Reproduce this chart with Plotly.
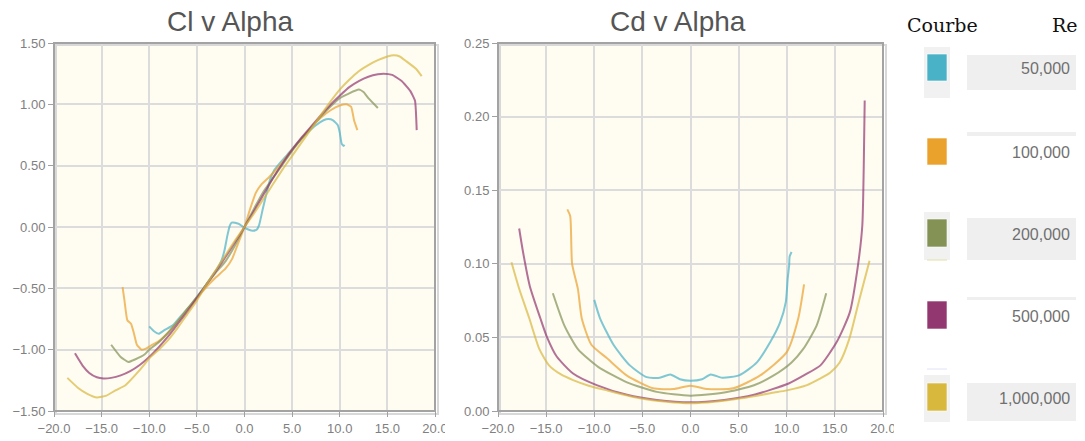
import plotly.graph_objects as go

W, H = 1085, 441

# ---------------- data ----------------
reynolds = [50000, 100000, 200000, 500000, 1000000]
colors = ["#4ab2c6", "#eba22d", "#849255", "#92376f", "#d9b83e"]

# Cl v Alpha
a_cl_50k = [-10.0, -9.5, -9.0, -8.4, -7.5, -6.5, -5.5, -4.5, -3.5, -2.8, -2.4, -2.1, -1.8, -1.55, -1.35, -1.0, -0.6,
            -0.3, 0.0, 0.4, 0.9, 1.3, 1.55, 1.9, 2.3, 2.7, 3.1, 3.6, 4.5, 5.5, 6.5, 7.5, 8.3, 8.8, 9.3, 9.8, 10.0,
            10.2, 10.4, 10.5]
cl_50k = [-0.81, -0.85, -0.87, -0.84, -0.80, -0.71, -0.62, -0.52, -0.41, -0.33, -0.27, -0.19, -0.07, 0.01, 0.035,
          0.035, 0.025, 0.01, -0.005, -0.02, -0.03, -0.02, 0.02, 0.14, 0.27, 0.39, 0.46, 0.51, 0.59, 0.68, 0.76,
          0.83, 0.87, 0.88, 0.87, 0.83, 0.77, 0.68, 0.66, 0.67]

a_cl_100k = [-12.8, -12.6, -12.3, -11.9, -11.6, -11.3, -10.8, -10.3, -9.9, -9.0, -8.0, -7.0, -6.0, -5.0, -4.0, -3.0,
             -2.0, -1.3, -0.7, 0.0, 0.6, 1.2, 1.8, 2.5, 3.0, 4.0, 5.0, 6.0, 7.0, 8.0, 9.0, 10.0, 10.7, 11.2, 11.5,
             11.85]
cl_100k = [-0.49, -0.60, -0.76, -0.79, -0.87, -0.96, -1.00, -0.99, -0.97, -0.93, -0.86, -0.77, -0.67, -0.58, -0.49,
           -0.41, -0.34, -0.26, -0.14, 0.0, 0.15, 0.28, 0.35, 0.40, 0.44, 0.53, 0.63, 0.72, 0.81, 0.89, 0.95, 0.99,
           1.00, 0.98, 0.87, 0.79]

a_cl_200k = [-14.0, -13.0, -12.2, -11.5, -10.5, -10.0, -9.0, -8.0, -7.0, -6.0, -5.0, -4.0, -3.0, -2.0, -1.0, 0.0, 1.0,
             2.0, 3.0, 4.0, 5.0, 6.0, 7.0, 8.0, 9.0, 10.0, 11.0, 12.0, 12.5, 13.0, 14.0]
cl_200k = [-0.96, -1.06, -1.10, -1.08, -1.04, -1.00, -0.94, -0.86, -0.77, -0.67, -0.57, -0.47, -0.37, -0.28, -0.15,
           0.0, 0.15, 0.29, 0.40, 0.51, 0.62, 0.72, 0.81, 0.90, 0.98, 1.05, 1.09, 1.12, 1.10, 1.05, 0.97]

a_cl_500k = [-17.8, -17.0, -16.3, -15.5, -14.8, -14.0, -13.0, -12.0, -11.0, -10.0, -9.0, -8.0, -7.0, -6.0, -5.0, -4.0,
             -3.0, -2.0, -1.0, 0.0, 1.0, 2.0, 3.0, 4.0, 5.0, 6.0, 7.0, 8.0, 9.0, 10.0, 11.0, 12.0, 13.0, 14.0, 14.6,
             15.5, 16.5, 17.4, 17.9, 18.08]
cl_500k = [-1.03, -1.13, -1.19, -1.225, -1.235, -1.23, -1.21, -1.175, -1.125, -1.06, -0.98, -0.89, -0.79, -0.69,
           -0.58, -0.47, -0.36, -0.245, -0.125, 0.0, 0.13, 0.265, 0.40, 0.52, 0.63, 0.73, 0.82, 0.91, 0.995, 1.07,
           1.14, 1.19, 1.225, 1.245, 1.25, 1.24, 1.19, 1.11, 1.03, 0.79]

a_cl_1m = [-18.6, -17.5, -16.5, -15.5, -14.5, -13.5, -12.5, -11.5, -10.5, -10.0, -9.0, -8.0, -7.0, -6.0, -5.0, -4.0,
           -3.0, -2.0, -1.0, 0.0, 1.0, 2.0, 3.0, 4.0, 5.0, 6.0, 7.0, 8.0, 9.0, 10.0, 11.0, 12.0, 13.0, 14.0, 15.0,
           15.7, 16.3, 17.0, 18.0, 18.6]
cl_1m = [-1.23, -1.31, -1.36, -1.39, -1.375, -1.33, -1.29, -1.21, -1.12, -1.07, -1.00, -0.92, -0.82, -0.71, -0.60,
         -0.47, -0.35, -0.23, -0.11, 0.0, 0.11, 0.23, 0.35, 0.47, 0.58, 0.69, 0.80, 0.91, 1.02, 1.12, 1.20, 1.27,
         1.32, 1.36, 1.39, 1.40, 1.39, 1.35, 1.29, 1.23]

# Cd v Alpha
a_cd_50k = [-10.0, -9.4, -8.0, -6.3, -4.55, -3.2, -2.1, -1.1, 0.0, 1.2, 2.1, 3.3, 5.1, 6.9, 8.3, 9.3, 9.9, 10.1,
            10.25, 10.3, 10.5]
cd_50k = [0.0755, 0.063, 0.045, 0.031, 0.023, 0.0226, 0.0248, 0.0216, 0.0206, 0.0216, 0.0248, 0.0226, 0.0244, 0.033,
          0.047, 0.060, 0.074, 0.090, 0.099, 0.105, 0.108]

a_cd_100k = [-12.8, -12.5, -12.3, -11.7, -11.3, -10.3, -8.7, -6.6, -3.9, -1.8, 0.0, 1.8, 4.45, 7.2, 10.0, 11.2,
             11.8]
cd_100k = [0.137, 0.1325, 0.100, 0.083, 0.063, 0.045, 0.036, 0.024, 0.0154, 0.0149, 0.0172, 0.0149, 0.0154, 0.024,
           0.040, 0.063, 0.086]

a_cd_200k = [-14.3, -13.1, -11.7, -9.6, -6.6, -3.5, 0.0, 3.5, 6.6, 8.6, 10.5, 11.7, 13.1, 14.1]
cd_200k = [0.080, 0.058, 0.042, 0.030, 0.0195, 0.013, 0.0104, 0.0125, 0.0175, 0.024, 0.033, 0.042, 0.058, 0.080]

a_cd_500k = [-17.8, -17.4, -16.7, -15.6, -14.9, -13.9, -12.2, -9.75, -6.6, -3.5, 0.0, 3.5, 6.6, 10.2, 12.0, 13.5,
             15.2, 16.55, 17.4, 17.85, 18.0, 18.1]
cd_500k = [0.124, 0.108, 0.085, 0.063, 0.050, 0.037, 0.0255, 0.0176, 0.011, 0.0075, 0.0059, 0.0075, 0.011, 0.0187,
           0.025, 0.031, 0.047, 0.067, 0.099, 0.126, 0.166, 0.211]

a_cd_1m = [-18.6, -17.8, -16.75, -15.7, -14.7, -13.5, -12.2, -10.5, -8.7, -5.25, -2.5, 0.0, 2.5, 5.25, 8.7, 10.0,
           12.1, 13.45, 14.5, 15.5, 16.5, 17.55, 18.6]
cd_1m = [0.101, 0.083, 0.063, 0.042, 0.031, 0.025, 0.021, 0.017, 0.014, 0.0086, 0.0062, 0.0052, 0.0062, 0.0086,
         0.0125, 0.014, 0.0176, 0.022, 0.026, 0.033, 0.049, 0.076, 0.102]

alpha_ticks = [-20, -15, -10, -5, 0, 5, 10, 15, 20]
cl_ticks = [-1.5, -1.0, -0.5, 0.0, 0.5, 1.0, 1.5]
cd_ticks = [0.0, 0.05, 0.10, 0.15, 0.20, 0.25]

cl_series = [(a_cl_50k, cl_50k), (a_cl_100k, cl_100k), (a_cl_200k, cl_200k), (a_cl_500k, cl_500k), (a_cl_1m, cl_1m)]
cd_series = [(a_cd_50k, cd_50k), (a_cd_100k, cd_100k), (a_cd_200k, cd_200k), (a_cd_500k, cd_500k), (a_cd_1m, cd_1m)]

# ---------------- figure ----------------
def px(x):
    return x / W


def py(y):
    return 1 - y / H


fig = go.Figure()
for (ax, ay), col, re in zip(cl_series, colors, reynolds):
    fig.add_trace(go.Scatter(x=ax, y=ay, mode="lines", line=dict(color=col, width=2, shape="spline", smoothing=0.4),
                             opacity=0.7, name=f"{re:,}", xaxis="x", yaxis="y", showlegend=False))
for (ax, ay), col, re in zip(cd_series, colors, reynolds):
    fig.add_trace(go.Scatter(x=ax, y=ay, mode="lines", line=dict(color=col, width=2, shape="spline", smoothing=0.6),
                             opacity=0.7, name=f"{re:,}", xaxis="x2", yaxis="y2", showlegend=False))

L1, R1 = 54, 435
L2, R2 = 498, 883
T, B = 43, 411

axis_common = dict(showgrid=True, gridcolor="#dcdcdc", gridwidth=2, zeroline=False, showline=False,
                   automargin=False, ticks="outside", ticklen=5, tickcolor="#a0a0a0", tickwidth=1,
                   tickfont=dict(family="Liberation Sans, Arial", size=13, color="#808080"))

fig.update_layout(
    width=W, height=H, margin=dict(l=0, r=0, t=0, b=0, autoexpand=False),
    paper_bgcolor="white", plot_bgcolor="#fffcf2",
    xaxis=dict(domain=[px(L1), px(R1)], range=[-20, 20], tickvals=alpha_ticks, tickformat=".1f", anchor="y",
               **axis_common),
    yaxis=dict(domain=[py(B), py(T)], range=[-1.5, 1.5], tickvals=cl_ticks, tickformat=".2f", anchor="x",
               **axis_common),
    xaxis2=dict(domain=[px(L2), px(R2)], range=[-20, 20], tickvals=alpha_ticks, tickformat=".1f", anchor="y2",
                **axis_common),
    yaxis2=dict(domain=[py(B), py(T)], range=[0, 0.25], tickvals=cd_ticks, tickformat=".2f", anchor="x2",
                **axis_common),
)

shapes = []
annotations = []

# plot frames with soft shadow
for l, r in [(L1, R1), (L2, R2)]:
    shapes.append(dict(type="rect", xref="paper", yref="paper", x0=px(l + 2), x1=px(r + 3), y0=py(B + 3),
                       y1=py(T + 2), line=dict(color="#d8d8d8", width=2), layer="below"))
    shapes.append(dict(type="rect", xref="paper", yref="paper", x0=px(l), x1=px(r), y0=py(B), y1=py(T),
                       line=dict(color="#a3a3a3", width=2), layer="above"))

# clip the last x tick labels as in the reference
shapes.append(dict(type="rect", xref="paper", yref="paper", x0=px(445), x1=px(454), y0=0, y1=py(418),
                   fillcolor="white", line=dict(width=0), layer="above"))
shapes.append(dict(type="rect", xref="paper", yref="paper", x0=px(894), x1=px(905), y0=0, y1=py(418),
                   fillcolor="white", line=dict(width=0), layer="above"))

# titles
annotations.append(dict(text="Cl v Alpha", x=px(230), y=py(22), xref="paper", yref="paper", showarrow=False,
                        font=dict(family="Liberation Sans, Arial", size=28, color="#555555"),
                        xanchor="center", yanchor="middle"))
annotations.append(dict(text="Cd v Alpha", x=px(678), y=py(22), xref="paper", yref="paper", showarrow=False,
                        font=dict(family="Liberation Sans, Arial", size=28, color="#555555"),
                        xanchor="center", yanchor="middle"))

# side table
annotations.append(dict(text="Courbe", x=px(905), y=py(25), xref="paper", yref="paper", showarrow=False,
                        font=dict(family="DejaVu Serif, Liberation Serif", size=19, color="#111111"),
                        xanchor="left", yanchor="middle"))
annotations.append(dict(text="Re", x=px(1050), y=py(25), xref="paper", yref="paper", showarrow=False,
                        font=dict(family="DejaVu Serif, Liberation Serif", size=19, color="#111111"),
                        xanchor="left", yanchor="middle"))

row_swatch = [(54, 81), (138, 165), (219, 247), (301, 329), (383, 411)]
row_text_y = [69, 153, 234, 316, 398]
row_bg = [(47, 98), None, (212, 260), None, (375, 422)]
row_box = [(55, 90), (132, 136), (218, 260), (297, 300), (383, 421)]

for i, (re, col) in enumerate(zip(reynolds, colors)):
    if row_bg[i] is not None:
        y0, y1 = row_bg[i]
        shapes.append(dict(type="rect", xref="paper", yref="paper", x0=px(924), x1=px(950), y0=py(y1), y1=py(y0),
                           fillcolor="#f1f1f1", line=dict(width=0), layer="below"))
    y0, y1 = row_box[i]
    shapes.append(dict(type="rect", xref="paper", yref="paper", x0=px(967), x1=px(1076), y0=py(y1), y1=py(y0),
                       fillcolor="#efefef", line=dict(width=0), layer="below"))
    y0, y1 = row_swatch[i]
    shapes.append(dict(type="rect", xref="paper", yref="paper", x0=px(927), x1=px(947), y0=py(y1), y1=py(y0),
                       fillcolor=col, line=dict(color="rgba(255,255,255,0.6)", width=1), layer="above"))
    annotations.append(dict(text=f"{re:,}", x=px(1072), y=py(row_text_y[i]), xref="paper", yref="paper",
                            showarrow=False, xanchor="right", yanchor="middle",
                            font=dict(family="Liberation Sans, Arial", size=16, color="#707070")))

# faint separator strokes under/over some swatches
shapes.append(dict(type="line", xref="paper", yref="paper", x0=px(927), x1=px(947), y0=py(260), y1=py(260),
                   line=dict(color="#e4e0a8", width=1)))
shapes.append(dict(type="line", xref="paper", yref="paper", x0=px(927), x1=px(947), y0=py(369), y1=py(369),
                   line=dict(color="#e2e2f6", width=1)))

fig.update_layout(shapes=shapes, annotations=annotations)

fig.write_html("out.html", config={"displayModeBar": False},
               post_script="document.body.style.margin='0';document.body.style.overflow='hidden';")
